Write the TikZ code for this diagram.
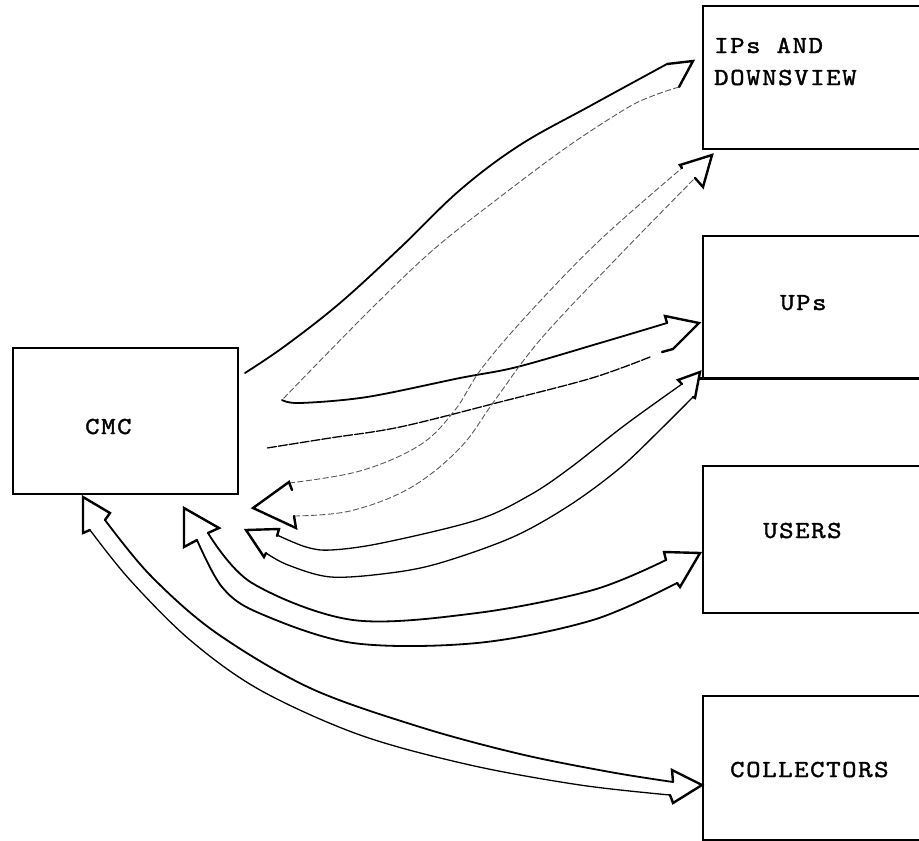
\documentclass[tikz,border=0pt]{standalone}
\usepackage{fontspec}
\newfontfamily\twfont{lmmono10-regular.otf}[FakeStretch=1.12, LetterSpace=6.5, FakeBold=1.5]
\begin{document}
\begin{tikzpicture}[x=1pt,y=-1pt,
  box/.style={draw, line width=2pt, anchor=north west, inner sep=0pt},
  lbl/.style={font=\twfont\fontsize{24.5}{32}\selectfont, anchor=base west, inner sep=0pt},
  heavy/.style={line width=1.8pt, line join=round, line cap=round},
  medium/.style={line width=1.3pt, line join=round, line cap=round},
  faint/.style={line width=0.9pt, black!65, dash pattern=on 6pt off 2.5pt},
  headtip/.style={line width=2.4pt, line join=miter, line cap=round},
]
\useasboundingbox (0,0) rectangle (919,841);
\clip (0,0) rectangle (919,841);

% boxes (the right-hand column runs past the right edge)
\node[box, minimum width=225pt, minimum height=146pt] (cmc) at (12,347) {};
\node[box, minimum width=240pt, minimum height=143pt] (ips) at (702,5) {};
\node[box, minimum width=240pt, minimum height=143pt] (ups) at (702,235) {};
\draw[line width=3pt] (699,378) -- (919,378);
\node[box, minimum width=240pt, minimum height=147pt] (users) at (702,465) {};
\node[box, minimum width=240pt, minimum height=144pt] (coll) at (702,695) {};

% labels
\node[lbl] (tcmc) at (85,434) {CMC};
\node[lbl] (tips1) at (714,53) {IPs AND};
\node[lbl] (tips2) at (714,85) {DOWNSVIEW};
\node[lbl] (tups) at (780,310) {UPs};
\node[lbl] (tusers) at (763,538) {USERS};
\node[lbl] (tcoll) at (730,777) {COLLECTORS};

% CMC -> IPs and DOWNSVIEW, CMC -> UPs (one continuous outline)
\draw[heavy] plot[smooth, tension=0.6] coordinates
  {(245,373) (285,346) (340,303) (400,248) (460,190) (520,145) (590,106) (667,64)};
\draw[headtip] (667,64) -- (693,61) -- (679,87);
\draw[faint] plot[smooth, tension=0.55] coordinates
  {(679,87) (655,95) (627,108) (567,147) (500,197) (433,250) (367,313) (282,400)};
\draw[heavy] plot[smooth, tension=0.55] coordinates
  {(282,400) (300,403) (367,397) (460,378) (517,367) (600,343) (667,323)};
\draw[headtip] (667,323) -- (665,316) -- (699,323) -- (673,349) -- (662,352);
\draw[medium, dash pattern=on 9pt off 2pt] plot[smooth, tension=0.55] coordinates
  {(650,357) (592,378) (500,402) (400,427) (330,438) (267,448)};

% IPs and DOWNSVIEW -> CMC (faint)
\draw[faint] plot[smooth, tension=0.6] coordinates
  {(289,483) (360,471) (420,445) (455,410) (482,368) (530,312) (600,240) (682,168)};
\draw[faint] plot[smooth, tension=0.6] coordinates
  {(294,516) (350,511) (410,488) (460,448) (495,400) (540,340) (613,262) (695,178)};
\draw[headtip] (682,168) -- (680,165) -- (712,155) -- (703,187) -- (695,178);
\draw[headtip] (292,490) -- (289,482) -- (253,508) -- (296,528) -- (294,516);

% UPs -> CMC
\draw[medium] plot[smooth, tension=0.55] coordinates
  {(277,535) (306,547) (331,550) (382,543) (477,520) (530,495) (570,468) (625,425) (682,384)};
\draw[medium] plot[smooth, tension=0.55] coordinates
  {(266,553) (288,565) (331,577) (390,573) (440,563) (513,537) (570,505) (620,468) (660,430) (693,397)};
\draw[headtip] (682,384) -- (678,380) -- (700,372) -- (695,398) -- (693,397);
\draw[headtip] (277,536) -- (279,529) -- (246,530) -- (264,557) -- (266,553);

% CMC <-> USERS
\draw[heavy] plot[smooth, tension=0.55] coordinates
  {(208,533) (252,583) (353,620) (477,613) (593,590) (666,560)};
\draw[heavy] plot[smooth, tension=0.55] coordinates
  {(197,540) (222,587) (259,613) (353,643) (477,643) (593,620) (677,583)};
\draw[headtip] (208,533) -- (219,528) -- (184,508) -- (184,547) -- (197,540);
\draw[headtip] (666,560) -- (664,552) -- (700,553) -- (680,587) -- (677,583);

% CMC <-> COLLECTORS
\draw[heavy] plot[smooth, tension=0.55] coordinates
  {(105,520) (150,575) (215,632) (310,688) (420,727) (520,754) (610,772) (673,782)};
\draw[medium] plot[smooth, tension=0.55] coordinates
  {(90,530) (130,580) (190,640) (260,690) (360,735) (470,765) (580,785) (670,795)};
\draw[headtip] (105,520) -- (110,513) -- (83,497) -- (83,533) -- (90,530);
\draw[headtip] (673,782) -- (672,770) -- (702,785) -- (673,803) -- (670,795);
\end{tikzpicture}
\end{document}
